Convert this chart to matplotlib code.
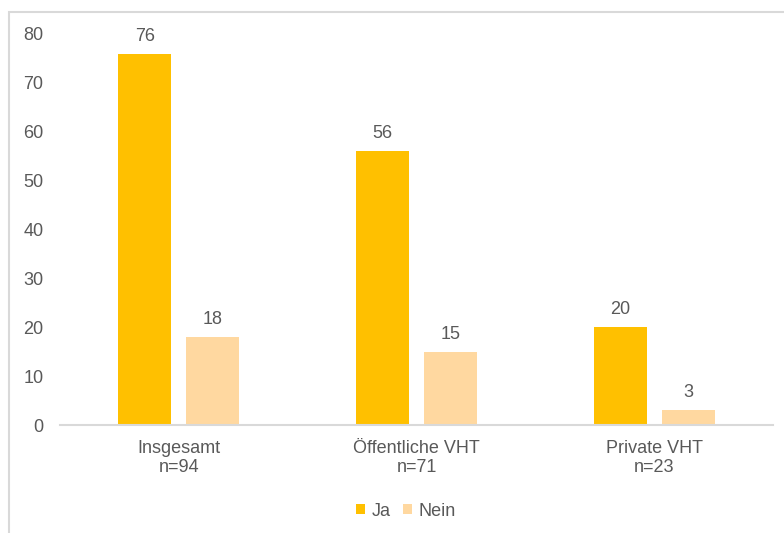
import matplotlib.pyplot as plt
import numpy as np
from matplotlib.patches import Rectangle

plt.rcParams['font.family'] = ['Liberation Sans', 'DejaVu Sans']

categories = ['Insgesamt\nn=94', 'Öffentliche VHT\nn=71', 'Private VHT\nn=23']
ja = [76, 56, 20]
nein = [18, 15, 3]
series_names = ['Ja', 'Nein']
colors = ['#FFC000', '#FFD8A0']
text_color = '#595959'
line_color = '#D9D9D9'

W, H = 784, 533
fig = plt.figure(figsize=(W / 100, H / 100), dpi=100)

# light frame round the chart area
fig.patches.append(Rectangle((9 / W, -0.1), 1.2, (H - 12) / H + 0.1,
                             transform=fig.transFigure, fill=False,
                             edgecolor=line_color, linewidth=1.5))

ax = fig.add_axes([60 / W, (H - 425) / H, (773 - 60) / W, (425 - 34) / H])

x = np.arange(len(categories))
w = 0.223
off = 0.143
for vals, c, name, dx in [(ja, colors[0], series_names[0], -off),
                          (nein, colors[1], series_names[1], off)]:
    bars = ax.bar(x + dx, vals, width=w, color=c, label=name)
    for b, v in zip(bars, vals):
        ax.annotate(str(v), (b.get_x() + b.get_width() / 2, v),
                    xytext=(0, 6.5), textcoords='offset points',
                    ha='center', va='bottom', fontsize=13, color=text_color)

ax.set_xlim(-0.5, 2.5)
ax.set_ylim(0, 80)
ax.set_yticks(range(0, 81, 10))
ax.set_xticks(x)
ax.set_xticklabels(categories, linespacing=1.15)
ax.tick_params(axis='both', length=0, labelsize=13, colors=text_color)
ax.tick_params(axis='y', pad=12)
ax.tick_params(axis='x', pad=11)

for s in ['top', 'right', 'left']:
    ax.spines[s].set_visible(False)
ax.spines['bottom'].set_color(line_color)
ax.spines['bottom'].set_linewidth(1.5)

fig.legend(loc='center', bbox_to_anchor=(406 / W, (H - 511) / H), ncol=2,
           frameon=False, fontsize=13, labelcolor=text_color,
           handlelength=0.5, handleheight=0.5, handletextpad=0.35,
           columnspacing=0.7)

fig.savefig('out.png', dpi=100)
